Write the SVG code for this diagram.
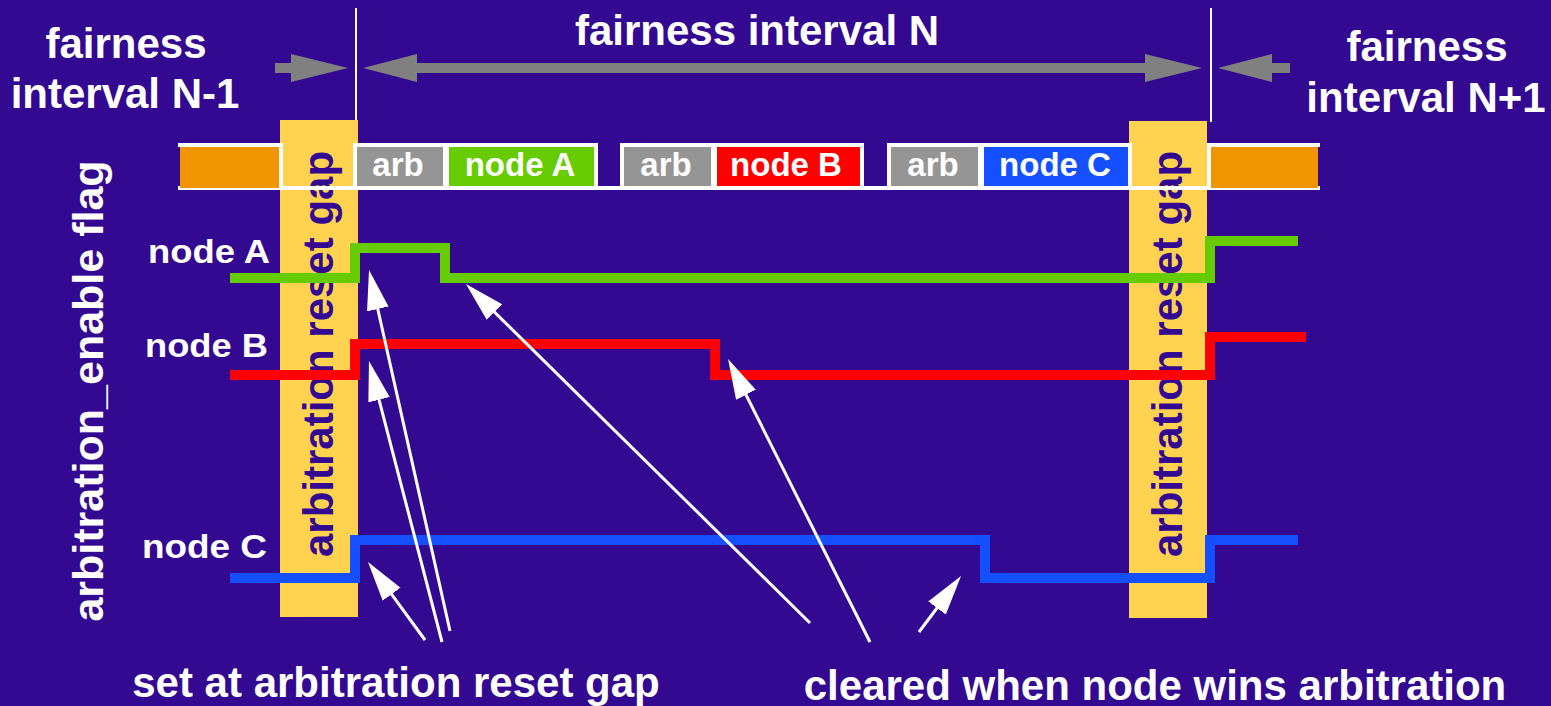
<svg xmlns="http://www.w3.org/2000/svg" width="1551" height="706" viewBox="0 0 1551 706">
<defs>
<style>
text{font-family:"Liberation Sans",Arial,sans-serif;font-weight:bold;}
.w{fill:#fff;}
.t42{font-size:42px;}
.mid{text-anchor:middle;}
.bar{fill:#FFD24F;}
.vt{font-size:42px;fill:#330992;text-anchor:middle;}
.box{stroke:#fff;stroke-width:4;}
.bl{font-size:33px;fill:#fff;text-anchor:middle;}
.sig{fill:none;stroke-width:10;stroke-linejoin:miter;stroke-linecap:butt;}
.ga{fill:#808080;}
.ann{stroke:#fff;stroke-width:3;fill:none;marker-end:url(#ah);}
</style>
<marker id="ah" markerUnits="userSpaceOnUse" markerWidth="42" markerHeight="24" viewBox="0 0 42 24" refX="20" refY="12" orient="auto">
<path d="M0,1 L40,12 L0,23 Z" fill="#fff"/>
</marker>
</defs>
<rect width="1551" height="706" fill="#330992"/>

<g id="titles">
<text class="w t42 mid" x="126" y="58">fairness</text>
<text class="w t42 mid" x="125" y="108">interval N-1</text>
<text class="w t42 mid" x="757" y="45">fairness interval N</text>
<text class="w t42 mid" x="1427" y="61">fairness</text>
<text class="w t42 mid" x="1426" y="112">interval N+1</text>
</g>

<g id="interval-markers">
<line x1="356" y1="8" x2="356" y2="121" stroke="#fff" stroke-width="2"/>
<line x1="1211" y1="8" x2="1211" y2="122" stroke="#fff" stroke-width="2"/>
<path class="ga" d="M275,63 H291 V54 L348,68 L291,82 V73 H275 Z"/>
<path class="ga" d="M363,68 L417,54 V63 H1145 V54 L1202,68 L1145,82 V73 H417 V82 Z"/>
<path class="ga" d="M1218,68 L1272,54 V63 H1290 V73 H1272 V82 Z"/>
</g>

<g id="reset-gap-left">
<rect class="bar" x="280" y="120" width="78" height="497"/>
<text class="vt" transform="translate(333,354) rotate(-90)">arbitration reset gap</text>
</g>
<g id="reset-gap-right">
<rect class="bar" x="1129" y="121" width="78" height="497"/>
<text class="vt" transform="translate(1182,354) rotate(-90)">arbitration reset gap</text>
</g>

<g id="packet-bar">
<rect x="178" y="186" width="1142" height="4" fill="#fff"/>
<rect x="180" y="145" width="100" height="43" fill="#F09400"/>
<path d="M178,145 H281 V188" fill="none" stroke="#fff" stroke-width="4"/>
<rect x="1211" y="145" width="107" height="43" fill="#F09400"/>
<path d="M1320,145 H1209 V188" fill="none" stroke="#fff" stroke-width="4"/>
</g>
<g id="arb1"><rect class="box" x="355" y="145" width="90" height="43" fill="#959595"/><text class="bl" x="398" y="176">arb</text></g>
<g id="slotA"><rect class="box" x="447" y="145" width="149" height="43" fill="#66CC00"/><text class="bl" x="520" y="176">node A</text></g>
<g id="arb2"><rect class="box" x="622" y="145" width="91" height="43" fill="#959595"/><text class="bl" x="666" y="176">arb</text></g>
<g id="slotB"><rect class="box" x="715" y="145" width="147" height="43" fill="#FF0000"/><text class="bl" x="786" y="176">node B</text></g>
<g id="arb3"><rect class="box" x="889" y="145" width="91" height="43" fill="#959595"/><text class="bl" x="933" y="176">arb</text></g>
<g id="slotC"><rect class="box" x="982" y="145" width="148" height="43" fill="#1450FF"/><text class="bl" x="1055" y="176">node C</text></g>

<g id="flag-label">
<text class="w mid" style="font-size:43px" transform="translate(103,391) rotate(-90)">arbitration_enable flag</text>
</g>

<g id="signalA">
<text class="w" style="font-size:33px" x="148" y="263" textLength="122" lengthAdjust="spacingAndGlyphs">node A</text>
<path class="sig" stroke="#66CC00" d="M230,278 H355 V248 H445 V278 H1210 V241 H1298"/>
</g>
<g id="signalB">
<text class="w" style="font-size:33px" x="145" y="357" textLength="123" lengthAdjust="spacingAndGlyphs">node B</text>
<path class="sig" stroke="#FF0000" d="M230,375 H355 V344 H715 V375 H1210 V337 H1306"/>
</g>
<g id="signalC">
<text class="w" style="font-size:33px" x="142" y="558" textLength="125" lengthAdjust="spacingAndGlyphs">node C</text>
<path class="sig" stroke="#1450FF" d="M230,578 H355 V540 H985 V578 H1210 V540 H1298"/>
</g>

<g id="connectors">
<line class="ann" x1="450" y1="631" x2="373.4" y2="289.5"/>
<line class="ann" x1="442" y1="642" x2="374" y2="380.4"/>
<line class="ann" x1="425" y1="640" x2="379.8" y2="578.1"/>
<line class="ann" x1="810" y1="623" x2="480.2" y2="298"/>
<line class="ann" x1="870" y1="642" x2="737" y2="376.9"/>
<line class="ann" x1="919" y1="632" x2="949" y2="592"/>
</g>

<g id="captions">
<text class="w t42 mid" x="396" y="697">set at arbitration reset gap</text>
<text class="w t42 mid" x="1155" y="700">cleared when node wins arbitration</text>
</g>
</svg>
